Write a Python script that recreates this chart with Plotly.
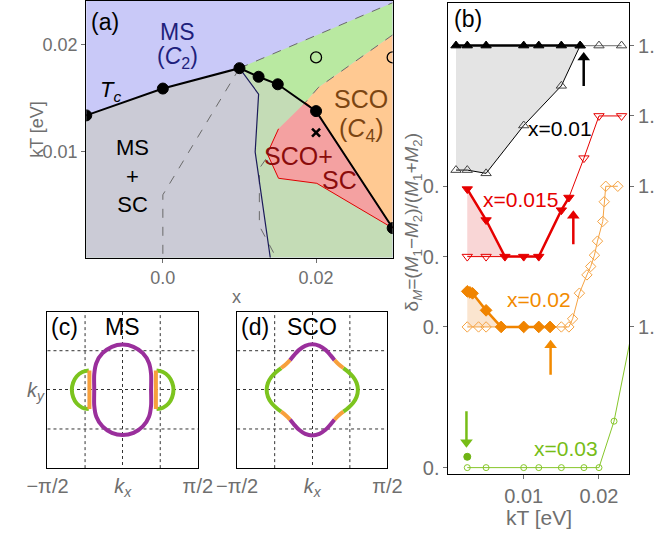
import plotly.graph_objects as go

W, H = 663, 539
FONT = "Liberation Sans"
GRAY = "#6f6f6f"


def PX(x):
    return x / W


def PY(y):
    return 1 - y / H


# ================= (a) phase diagram data =================
tc_x = [-0.01, 0.0, 0.01, 0.0125, 0.015, 0.02, 0.03]
tc_T = [0.0134, 0.0159, 0.0178, 0.0170, 0.0163, 0.0138, 0.0029]
open_x = [0.02, 0.03]
open_T = [0.0188, 0.0188]
cross_x = [0.02]
cross_T = [0.0118]
navy_x = [0.01, 0.0125, 0.01205, 0.01405]
navy_T = [0.0178, 0.01538, 0.0100, 0.0]
dash1_x = [0.01, 0.0, 0.0]
dash1_T = [0.0178, 0.0060, 0.0]
dash2_x = [0.01, 0.03]
dash2_T = [0.0178, 0.0239]
dash3_x = [0.03, 0.0203, 0.0186, 0.0126, 0.0126, 0.0149]
dash3_T = [0.0209, 0.0160, 0.0146, 0.00846, 0.0031, 0.0]
red_x = [0.0186, 0.02, 0.03, 0.0201, 0.0151, 0.01363, 0.0151]
red_T = [0.0146, 0.0138, 0.0029, 0.00707, 0.00754, 0.00984, 0.01215]

# ================= (b) delta_M vs kT data =================
# x = 0.01
k01_f = [0.001, 0.0025, 0.005, 0.01, 0.012, 0.015, 0.0175]
d01_f = [1, 1, 1, 1, 1, 1, 1]
k01_lo = [0.001, 0.0025, 0.005, 0.01, 0.015, 0.0175]
d01_lo = [0.115, 0.115, 0.092, 0.432, 0.714, 1.0]
k01_hi = [0.02, 0.023]
d01_hi = [1.0, 1.0]
# x = 0.015
k015_f = [0.0025, 0.005, 0.0075, 0.01, 0.012, 0.015, 0.016]
d015_f = [0.48, 0.26, 0.0, 0.0, 0.0, 0.33, 0.42]
k015_o = [0.0025, 0.005, 0.018, 0.02, 0.023]
d015_o = [0.0, 0.0, 0.70, 1.0, 1.0]
# x = 0.02
k02_f = [0.0025, 0.00285, 0.0032, 0.005, 0.007, 0.01, 0.012, 0.0135]
d02_f = [0.253, 0.246, 0.239, 0.118, 0.0, 0.0, 0.0, 0.0]
k02_o = [0.0025, 0.004, 0.005, 0.015, 0.016, 0.0165, 0.0174, 0.0184, 0.0189,
         0.0194, 0.0198, 0.0205, 0.0207, 0.0209, 0.0225]
d02_o = [0.0, 0.0, 0.0, 0.0, 0.0, 0.058, 0.24, 0.37, 0.43, 0.51, 0.61, 0.75,
         0.89, 1.0, 1.0]
# x = 0.03
k03_o = [0.0025, 0.005, 0.01, 0.012, 0.015, 0.018, 0.02, 0.022, 0.0245]
d03_o = [0.0, 0.0, 0.0, 0.0, 0.0, 0.0, 0.0, 0.33, 1.0]
k03_f = [0.0025]
d03_f = [0.077]

offsets = {"0.01": 2.0, "0.015": 1.5, "0.02": 1.0, "0.03": 0.0}

# arrows: (series, kT, tail, head) in delta units (before offset)
arrows_b = [
    ("0.01", 0.01797, 0.713, 0.915, "black"),
    ("0.015", 0.01659, 0.087, 0.29, "#e60000"),
    ("0.02", 0.01357, -0.34, -0.13, "#f28a00"),
    ("0.03", 0.00239, 0.401, 0.18, "#77bd17"),
]

# ================= (c)/(d) Fermi surfaces (units of pi) =================
ms_oval_x = [0.189, 0.189, 0.189, 0.175, 0.134, 0.072, 0.0, -0.072, -0.134, -0.175,
             -0.189, -0.189, -0.189, -0.175, -0.134, -0.072, 0.0, 0.072, 0.134, 0.175, 0.189]
ms_oval_y = [-0.1, 0.0, 0.1, 0.172, 0.234, 0.275, 0.289, 0.275, 0.234, 0.172,
             0.1, 0.0, -0.1, -0.172, -0.234, -0.275, -0.289, -0.275, -0.234, -0.172, -0.1]
ms_pocket_green_x = [-0.225, -0.268, -0.305, -0.329, -0.338, -0.329, -0.305, -0.268, -0.225, None,
                     0.225, 0.268, 0.305, 0.329, 0.338, 0.329, 0.305, 0.268, 0.225]
ms_pocket_green_y = [0.123, 0.114, 0.087, 0.047, 0.0, -0.047, -0.087, -0.114, -0.123, None,
                     0.123, 0.114, 0.087, 0.047, 0.0, -0.047, -0.087, -0.114, -0.123]
ms_pocket_orange_x = [-0.221, -0.221, None, 0.221, 0.221]
ms_pocket_orange_y = [0.123, -0.123, None, 0.123, -0.123]

sco_purple_x = [0.1482, 0.1221, 0.0879, 0.0470, 0.0, -0.0470, -0.0879, -0.1221, -0.1482, None,
                -0.1482, -0.1221, -0.0879, -0.0470, 0.0, 0.0470, 0.0879, 0.1221, 0.1482]
sco_purple_y = [0.1897, 0.2203, 0.2554, 0.2811, 0.2909, 0.2811, 0.2554, 0.2203, 0.1897, None,
                -0.1897, -0.2203, -0.2554, -0.2811, -0.2909, -0.2811, -0.2554, -0.2203, -0.1897]
sco_orange_x = [0.2068, 0.1752, 0.1482, None, -0.1482, -0.1752, -0.2068, None,
                -0.2068, -0.1752, -0.1482, None, 0.1482, 0.1752, 0.2068]
sco_orange_y = [0.1395, 0.1633, 0.1897, None, 0.1897, 0.1633, 0.1395, None,
                -0.1395, -0.1633, -0.1897, None, -0.1897, -0.1633, -0.1395]
sco_green_x = [0.2068, 0.2400, 0.2718, 0.2949, 0.3035, 0.2949, 0.2718, 0.2400, 0.2068, None,
               -0.2068, -0.2400, -0.2718, -0.2949, -0.3035, -0.2949, -0.2718, -0.2400, -0.2068]
sco_green_y = [-0.1395, -0.1145, -0.0831, -0.0441, 0.0, 0.0441, 0.0831, 0.1145, 0.1395, None,
               0.1395, 0.1145, 0.0831, 0.0441, 0.0, -0.0441, -0.0831, -0.1145, -0.1395]
fs_grid = [-0.25, 0.25]

FS_PURPLE = "#9a2f9c"
FS_GREEN = "#7cc41e"
FS_ORANGE = "#f7a03c"

fig = go.Figure()


def poly(x, y, color, xa="x", ya="y", lc=None, lw=0):
    fig.add_trace(go.Scatter(
        x=x, y=y, mode="lines", fill="toself", fillcolor=color,
        line=dict(color=lc or color, width=lw), hoverinfo="skip",
        showlegend=False, xaxis=xa, yaxis=ya))


def line(x, y, color, width=1, dash=None, xa="x", ya="y", shape="linear", smooth=1.0):
    fig.add_trace(go.Scatter(
        x=x, y=y, mode="lines",
        line=dict(color=color, width=width, dash=dash, shape=shape,
                  smoothing=smooth if shape == "spline" else None),
        hoverinfo="skip", showlegend=False, xaxis=xa, yaxis=ya))


def marks(x, y, symbol, size, color, lw=1, xa="x", ya="y", lcolor=None):
    fig.add_trace(go.Scatter(
        x=x, y=y, mode="markers",
        marker=dict(symbol=symbol, size=size, color=color,
                    line=dict(width=lw, color=lcolor or color)),
        hoverinfo="skip", showlegend=False, xaxis=xa, yaxis=ya))


# ---------- (a) regions ----------
poly([-0.01] + tc_x + [0.03], [0.0] + tc_T + [0.0], "#c4dcb6")
poly([-0.01] + tc_x[:3] + navy_x[1:], [0.0] + tc_T[:3] + navy_T[1:], "#cbcbd6")
poly(dash2_x + dash3_x[:3] + tc_x[3:5][::-1], dash2_T + dash3_T[:3] + tc_T[3:5][::-1], "#b9e9a1")
poly(dash3_x[:3][::-1] + [tc_x[6], tc_x[5]], dash3_T[:3][::-1] + [tc_T[6], tc_T[5]], "#ffc992")
line(dash1_x, dash1_T, "#6a6a6a", 1, "dash")
line(dash2_x, dash2_T, "#6a6a6a", 1, "dash")
line(dash3_x, dash3_T, "#6a6a6a", 1, "dash")
poly(red_x, red_T, "#f4a1a1", lc="#e00000", lw=1)
line(navy_x, navy_T, "#1c1c5a", 1.2)
line(tc_x, tc_T, "black", 2)
marks(tc_x, tc_T, "circle", 11, "black")
marks(open_x, open_T, "circle-open", 11, "black", lw=1.3)
marks(cross_x, cross_T, "x-thin", 8, "black", lw=2.6)

# ---------- (b) ----------
XB, YB = "x2", "y2"
o1, o15, o2, o3 = offsets["0.01"], offsets["0.015"], offsets["0.02"], offsets["0.03"]


def sh(vals, o):
    return [v + o for v in vals]


def thin_path(kf, df, ko, do):
    k0 = min(k for k, d in zip(kf, df) if d == 0)
    pts = {k: d for k, d in zip(kf, df) if k >= k0}
    pts.update(zip(ko, do))
    ks = sorted(pts)
    return ks, [pts[k] for k in ks], k0


# fills
poly(k01_f + k01_lo[::-1], sh(d01_f + d01_lo[::-1], o1), "#e4e4e4", XB, YB)
kr, dr, k0r = thin_path(k015_f, d015_f, k015_o, d015_o)
fr = [(k, d) for k, d in zip(k015_f, d015_f) if k <= k0r]
orr = [(k, d) for k, d in zip(k015_o, d015_o) if k < k0r][::-1]
poly([p[0] for p in fr + orr], sh([p[1] for p in fr + orr], o15), "#f9d6d6", XB, YB)
ko_, do_, k0o = thin_path(k02_f, d02_f, k02_o, d02_o)
fo = [(k, d) for k, d in zip(k02_f, d02_f) if k <= k0o]
oo = [(k, d) for k, d in zip(k02_o, d02_o) if k < k0o][::-1]
poly([p[0] for p in fo + oo], sh([p[1] for p in fo + oo], o2), "#fbe5cf", XB, YB)

# thin lines
line(k01_lo, sh(d01_lo, o1), "black", 1, xa=XB, ya=YB)
line([k01_f[-1]] + k01_hi, sh([d01_f[-1]] + d01_hi, o1), "#8a8a8a", 1.2, xa=XB, ya=YB)
line(kr, sh(dr, o15), "#e60000", 1, xa=XB, ya=YB)
line(ko_, sh(do_, o2), "#f5a343", 1, xa=XB, ya=YB)
line(k03_o, sh(d03_o, o3), "#86c62a", 1, xa=XB, ya=YB)
# thick lines
line(k01_f, sh(d01_f, o1), "black", 2.5, xa=XB, ya=YB)
line(k015_f, sh(d015_f, o15), "#e60000", 2.5, xa=XB, ya=YB)
line(k02_f, sh(d02_f, o2), "#f08400", 2.5, xa=XB, ya=YB)
# markers
marks(k01_lo + k01_hi, sh(d01_lo + d01_hi, o1), "triangle-up-open", 9, "#444444", xa=XB, ya=YB)
marks(k01_f, sh(d01_f, o1), "triangle-up", 9, "black", xa=XB, ya=YB)
marks(k015_o, sh(d015_o, o15), "triangle-down-open", 9, "#e60000", xa=XB, ya=YB)
marks(k015_f, sh(d015_f, o15), "triangle-down", 9, "#e60000", xa=XB, ya=YB)
marks(k02_o, sh(d02_o, o2), "diamond-open", 8, "#f5a343", xa=XB, ya=YB)
marks(k02_f, sh(d02_f, o2), "diamond", 9, "#f08400", xa=XB, ya=YB)
marks(k03_o, sh(d03_o, o3), "circle-open", 6, "#86c62a", xa=XB, ya=YB)
marks(k03_f, sh(d03_f, o3), "circle", 7, "#6fb414", xa=XB, ya=YB)
# arrows: shaft + triangular head
for key, kx, tail, head, col in arrows_b:
    o = offsets[key]
    line([kx, kx], [tail + o, head + o], col, 2.5, xa=XB, ya=YB)
    marks([kx], [head + o], "triangle-up" if head > tail else "triangle-down", 11, col,
          lw=0, xa=XB, ya=YB)
# invisible trace for right axis
fig.add_trace(go.Scatter(x=[0.01], y=[1.0], mode="markers", marker=dict(opacity=0),
                         hoverinfo="skip", showlegend=False, xaxis="x2", yaxis="y3"))

# ---------- (c) ----------
line(ms_oval_x, ms_oval_y, FS_PURPLE, 4, xa="x3", ya="y4", shape="spline", smooth=0.8)
line(ms_pocket_green_x, ms_pocket_green_y, FS_GREEN, 4, xa="x3", ya="y4", shape="spline", smooth=1.0)
line(ms_pocket_orange_x, ms_pocket_orange_y, FS_ORANGE, 4, xa="x3", ya="y4")
# ---------- (d) ----------
line(sco_purple_x, sco_purple_y, FS_PURPLE, 4, xa="x4", ya="y5", shape="spline", smooth=1.0)
line(sco_green_x, sco_green_y, FS_GREEN, 4, xa="x4", ya="y5", shape="spline", smooth=1.0)
line(sco_orange_x, sco_orange_y, FS_ORANGE, 4, xa="x4", ya="y5", shape="spline", smooth=1.0)

# ---------- axes ----------
frame = dict(showline=True, linecolor="black", linewidth=1, mirror=True,
             showgrid=False, zeroline=False)
tickA = dict(ticks="outside", ticklen=4, tickcolor=GRAY, tickfont=dict(size=18, color=GRAY))
tickB = dict(ticks="outside", ticklen=4, tickcolor=GRAY, tickfont=dict(size=20, color=GRAY))
fsax = dict(showgrid=True, gridcolor="#333333", griddash="dot", gridwidth=1, ticks="",
            tickfont=dict(size=20, color=GRAY), showline=True, linecolor="black",
            mirror=True, zeroline=False, range=[-0.5, 0.5], tickvals=[-0.5, 0.0, 0.5])

fig.update_layout(
    width=W, height=H, margin=dict(l=0, r=0, t=0, b=0),
    paper_bgcolor="white", plot_bgcolor="white", showlegend=False,
    font=dict(family=FONT, color="black"),
    xaxis=dict(domain=[PX(69), PX(393)], range=[-0.01, 0.03], anchor="y",
               tickvals=[0.0, 0.02], ticktext=["0.0", "0.02"], **frame, **tickA),
    yaxis=dict(domain=[PY(260), PY(1)], range=[0.00015, 0.02406], anchor="x",
               tickvals=[0.01, 0.02], ticktext=["0.01", "0.02"], **frame, **tickA),
    xaxis2=dict(domain=[PX(452), PX(643)], range=[0, 0.024], anchor="y2",
                tickvals=[0.01, 0.02], ticktext=["0.01", "0.02"], **frame, **tickB),
    yaxis2=dict(domain=[PY(478), PY(3)], range=[-0.0423, 3.303], anchor="x2",
                tickvals=[0, 1, 1.5, 2], ticktext=["0."] * 4, **frame, **tickB),
    yaxis3=dict(range=[-0.0423, 3.303], overlaying="y2", side="right", anchor="x2",
                tickvals=[1, 2, 2.5, 3], ticktext=["1."] * 4, showline=False,
                showgrid=False, zeroline=False, **tickB),
    xaxis3=dict(domain=[PX(28), PX(187)], anchor="y4",
                ticktext=["−π/2", "<i>k<sub>x</sub></i>", "π/2"], **fsax),
    yaxis4=dict(domain=[PY(472.5), PY(314.5)], anchor="x3", showticklabels=False, **fsax),
    xaxis4=dict(domain=[PX(228.5), PX(387.5)], anchor="y5",
                ticktext=["−π/2", "<i>k<sub>x</sub></i>", "π/2"], **fsax),
    yaxis5=dict(domain=[PY(472.5), PY(314.5)], anchor="x4", showticklabels=False, **fsax),
)

fig.add_shape(type="rect", xref="x domain", yref="y domain", x0=0, x1=1, y0=0, y1=1,
              fillcolor="#c9c9f8", line=dict(width=0), layer="below")
# extra dotted grid lines in (c) and (d)
for xa, ya in (("x3", "y4"), ("x4", "y5")):
    for g in fs_grid:
        fig.add_shape(type="line", xref=xa, yref=f"{ya} domain", x0=g, x1=g, y0=0, y1=1,
                      line=dict(color="#333333", width=1, dash="dot"), layer="below")
        fig.add_shape(type="line", xref=f"{xa} domain", yref=ya, x0=0, x1=1, y0=g, y1=g,
                      line=dict(color="#333333", width=1, dash="dot"), layer="below")


# ---------- annotations ----------
def txt(x, y, s, size, color="black", angle=0):
    fig.add_annotation(x=PX(x), y=PY(y), xref="paper", yref="paper", text=s,
                       showarrow=False, textangle=angle, xanchor="center", yanchor="middle",
                       font=dict(size=size, color=color, family=FONT))


NAVY = "#1f1f7c"
BROWN = "#7b4512"
DRED = "#8a0c0c"
txt(89, 22, "(a)", 23)
txt(166, 32, "MS", 23, NAVY)
txt(166, 58, "(<i>C</i><sub>2</sub>)", 23, NAVY)
txt(95, 92, "<i>T<sub>c</sub></i>", 22)
txt(118, 178, "MS<br>+<br>SC", 22)
txt(360, 100, "SCO", 25, BROWN)
txt(360, 131, "(<i>C</i><sub>4</sub>)", 25, BROWN)
txt(293, 157, "SCO+", 25, DRED)
txt(337, 182, "SC", 25, DRED)
txt(228, 300, "x", 18, GRAY)
txt(17, 131, "kT [eV]", 18, GRAY, -90)

txt(473, 19, "(b)", 23)
txt(570, 130, "x=0.01", 21, "black")
txt(528, 201, "x=0.015", 21, "#e60000")
txt(548, 302, "x=0.02", 21, "#f28a00")
txt(576, 453, "x=0.03", 21, "#77bd17")
txt(548, 522, "kT [eV]", 21, GRAY)
txt(414, 224, "δ<sub><i>M</i></sub>=(<i>M</i><sub>1</sub>−<i>M</i><sub>2</sub>)/(<i>M</i><sub>1</sub>+<i>M</i><sub>2</sub>)",
    19, GRAY, -90)

txt(46, 330, "(c)", 23)
txt(107, 330, "MS", 23)
txt(247, 330, "(d)", 23)
txt(308, 330, "SCO", 23)
txt(16, 395, "<i>k<sub>y</sub></i>", 20, GRAY)

fig.write_html("out.html")
